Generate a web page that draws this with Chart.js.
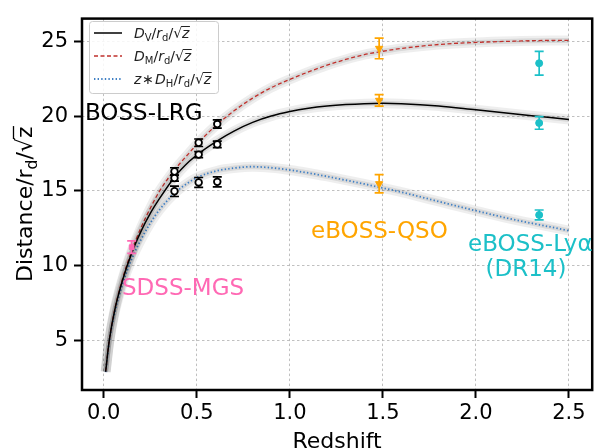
<!DOCTYPE html>
<html><head><meta charset="utf-8">
<script src="https://cdn.jsdelivr.net/npm/chart.js@4"></script>
<style>html,body{margin:0;padding:0;background:#fff}canvas{display:block}</style>
</head><body>
<canvas id="c" width="598" height="448"></canvas>
<script>
// ---- data ----
const zCurve   = [0.01,0.03,0.06,0.1,0.15,0.2,0.25,0.3,0.38,0.46,0.51,0.61,0.7,0.8,0.9,1.0,1.1,1.2,1.3,1.4,1.5,1.6,1.8,2.0,2.2,2.4,2.5];
const dmCurve  = [2.95,5.08,7.15,9.1,11.0,12.55,13.85,15.0,16.4,17.55,18.25,19.45,20.35,21.2,21.9,22.45,22.95,23.4,23.78,24.1,24.33,24.52,24.78,24.92,25.0,25.05,25.05];
const dvCurve  = [2.93,5.05,7.1,9.0,10.85,12.3,13.5,14.5,15.92,16.98,17.5,18.35,19.0,19.58,20.0,20.3,20.52,20.67,20.77,20.83,20.85,20.83,20.68,20.42,20.16,19.9,19.77];
const zdhCurve = [2.9,4.98,6.95,8.75,10.45,11.75,12.85,13.75,14.85,15.6,15.95,16.35,16.53,16.62,16.55,16.4,16.2,15.97,15.72,15.47,15.2,14.92,14.3,13.68,13.1,12.6,12.35];

const xTicks = [0,0.5,1.0,1.5,2.0,2.5];
const yTicks = [5,10,15,20,25];

const lrgZ = [0.38,0.51,0.61];
const lrgDM = [16.3,18.22,19.47];   const lrgDMerr = [0.25,0.25,0.28];
const lrgDV = [15.86,17.43,18.11];  const lrgDVerr = [0.2,0.2,0.22];
const lrgZDH = [14.98,15.57,15.61]; const lrgZDHerr = [0.35,0.33,0.33];

const mgsZ = [0.15]; const mgsDV = [11.25]; const mgsDVerr = [0.42];

const qsoZ = [1.48];
const qsoDM = [24.52];  const qsoDMerr = [0.69];
const qsoDV = [21.05];  const qsoDVerr = [0.38];
const qsoZDH = [15.48]; const qsoZDHerr = [0.61];

const lyaZ = [2.34];
const lyaDM = [23.53];  const lyaDMerr = [0.79];
const lyaDV = [19.54];  const lyaDVerr = [0.42];
const lyaZDH = [13.4];  const lyaZDHerr = [0.33];

// ---- helpers ----
const pts = (xs, ys) => xs.map((x, i) => ({x: x, y: ys[i]}));
const COL_ORANGE = '#ffa500', COL_CYAN = '#1cc0c8', COL_PINK = '#ff69b4';

function curveSets(ys, style) {
  const d = pts(zCurve, ys);
  return [
    {data: d, showLine: true, pointRadius: 0, borderColor: style.color, borderWidth: style.width, borderDash: style.dash, cubicInterpolationMode: 'monotone', fill: false},
    {data: d, showLine: true, pointRadius: 0, borderColor: 'rgba(0,0,0,0.09)', borderWidth: 5, cubicInterpolationMode: 'monotone', fill: false, borderCapStyle: 'butt'},
    {data: d, showLine: true, pointRadius: 0, borderColor: 'rgba(0,0,0,0.065)', borderWidth: 10, cubicInterpolationMode: 'monotone', fill: false, borderCapStyle: 'butt'}
  ];
}

const pointSets = [
  {data: pts(lrgZ.concat(lrgZ, lrgZ), lrgDM.concat(lrgDV, lrgZDH)), err: lrgDMerr.concat(lrgDVerr, lrgZDHerr), errColor: '#000',
   pointStyle: 'circle', pointRadius: 3.3, backgroundColor: '#fff', borderColor: '#000', borderWidth: 1.8},
  {data: pts(mgsZ, mgsDV), err: mgsDVerr, errColor: COL_PINK,
   pointStyle: 'rect', pointRadius: 3.3, backgroundColor: COL_PINK, borderColor: COL_PINK, borderWidth: 1},
  {data: pts(qsoZ.concat(qsoZ, qsoZ), qsoDM.concat(qsoDV, qsoZDH)), err: qsoDMerr.concat(qsoDVerr, qsoZDHerr), errColor: COL_ORANGE,
   pointStyle: 'triangle', rotation: 180, pointRadius: 4.2, backgroundColor: COL_ORANGE, borderColor: COL_ORANGE, borderWidth: 1},
  {data: pts(lyaZ.concat(lyaZ, lyaZ), lyaDM.concat(lyaDV, lyaZDH)), err: lyaDMerr.concat(lyaDVerr, lyaZDHerr), errColor: COL_CYAN,
   pointStyle: 'circle', pointRadius: 3.5, backgroundColor: COL_CYAN, borderColor: COL_CYAN, borderWidth: 1}
];

const datasets = pointSets
  .concat(curveSets(dvCurve,  {color: '#000', width: 1.5, dash: []}))
  .concat(curveSets(dmCurve,  {color: '#c0302c', width: 1.3, dash: [4, 2.5]}))
  .concat(curveSets(zdhCurve, {color: '#3f7fc4', width: 1.8, dash: [1.4, 2.2]}));

// ---- rich text helper ----
function drawRich(ctx, x, y, segs) {
  let cx = x;
  for (const s of segs) {
    ctx.font = s.font;
    const w = ctx.measureText(s.t).width;
    ctx.fillText(s.t, cx, y + (s.dy || 0));
    if (s.over) {
      ctx.save(); ctx.lineWidth = s.overW || 1; ctx.strokeStyle = ctx.fillStyle;
      ctx.beginPath(); ctx.moveTo(cx - 1, y - s.over); ctx.lineTo(cx + w + 0.5, y - s.over); ctx.stroke(); ctx.restore();
    }
    cx += w + (s.gap || 0);
  }
  return cx - x;
}
function richWidth(ctx, segs) {
  let w = 0; for (const s of segs) { ctx.font = s.font; w += ctx.measureText(s.t).width + (s.gap || 0); } return w;
}

const errPlugin = {
  id: 'errbars',
  beforeDatasetDraw(chart, args) {
    if (args.index !== pointSets.length - 1) return;
    const ctx = chart.ctx, xs = chart.scales.x, ys = chart.scales.y;
    ctx.save();
    pointSets.forEach(ds => {
      ctx.strokeStyle = ds.errColor; ctx.lineWidth = 1.7;
      ds.data.forEach((p, i) => {
        const px = xs.getPixelForValue(p.x);
        const y1 = ys.getPixelForValue(p.y - ds.err[i]);
        const y2 = ys.getPixelForValue(p.y + ds.err[i]);
        ctx.beginPath();
        ctx.moveTo(px, y1); ctx.lineTo(px, y2);
        ctx.moveTo(px - 4.5, y1); ctx.lineTo(px + 4.5, y1);
        ctx.moveTo(px - 4.5, y2); ctx.lineTo(px + 4.5, y2);
        ctx.stroke();
      });
    });
    ctx.restore();
  }
};

const decorPlugin = {
  id: 'decor',
  afterDraw(chart) {
    const ctx = chart.ctx, a = chart.chartArea;
    ctx.save();
    // frame
    ctx.strokeStyle = '#000'; ctx.lineWidth = 2.5;
    ctx.strokeRect(a.left, a.top, a.right - a.left, a.bottom - a.top);

    // annotations
    ctx.textBaseline = 'alphabetic'; ctx.textAlign = 'left';
    ctx.font = '23px "DejaVu Sans"';
    ctx.fillStyle = '#000'; ctx.fillText('BOSS-LRG', 85, 120);
    ctx.fillStyle = COL_PINK; ctx.fillText('SDSS-MGS', 122, 295);
    ctx.fillStyle = COL_ORANGE; ctx.fillText('eBOSS-QSO', 311, 238);
    ctx.fillStyle = COL_CYAN; ctx.fillText('eBOSS-Ly\u03b1', 468, 251);
    ctx.textAlign = 'center'; ctx.fillText('(DR14)', 526, 276);
    ctx.textAlign = 'left';

    // legend
    ctx.fillStyle = 'rgba(255,255,255,0.85)'; ctx.strokeStyle = '#cccccc'; ctx.lineWidth = 1;
    ctx.beginPath(); ctx.roundRect(89.5, 21.5, 129, 72, 3); ctx.fill(); ctx.stroke();
    const rows = [33, 56, 79];
    const lines = [{c: '#000', w: 1.5, d: []}, {c: '#c0302c', w: 1.3, d: [4, 2.5]}, {c: '#3f7fc4', w: 1.8, d: [1.4, 2.2]}];
    lines.forEach((l, i) => {
      ctx.strokeStyle = l.c; ctx.lineWidth = l.w; ctx.setLineDash(l.d);
      ctx.beginPath(); ctx.moveTo(94, rows[i]); ctx.lineTo(122, rows[i]); ctx.stroke();
    });
    ctx.setLineDash([]);
    ctx.fillStyle = '#222';
    const it = 'italic 14px "DejaVu Sans"', up = '14px "DejaVu Sans"', sb = '10px "DejaVu Sans"';
    const tail = [
      {t: '/', font: up}, {t: 'r', font: it}, {t: 'd', font: sb, dy: 3},
      {t: '/', font: up}, {t: '\u221a', font: up}, {t: 'z', font: it, over: 11.5}
    ];
    drawRich(ctx, 134, rows[0] + 5, [{t: 'D', font: it}, {t: 'V', font: sb, dy: 3}].concat(tail));
    drawRich(ctx, 134, rows[1] + 5, [{t: 'D', font: it}, {t: 'M', font: sb, dy: 3}].concat(tail));
    drawRich(ctx, 134, rows[2] + 5, [{t: 'z', font: it, gap: 1}, {t: '\u2217', font: up, gap: 1}, {t: 'D', font: it}, {t: 'H', font: sb, dy: 3}].concat(tail));

    // axis titles
    ctx.fillStyle = '#000';
    ctx.font = '22px "DejaVu Sans"'; ctx.textAlign = 'center';
    ctx.fillText('Redshift', (a.left + a.right) / 2, 448);
    ctx.textAlign = 'left';
    const ysegs = [
      {t: 'Distance/r', font: '22px "DejaVu Sans"'}, {t: 'd', font: '15.5px "DejaVu Sans"', dy: 5},
      {t: '/', font: '22px "DejaVu Sans"'}, {t: '\u221a', font: '22px "DejaVu Sans"'},
      {t: 'z', font: '22px "DejaVu Sans"', over: 18, overW: 1.3}
    ];
    const w = richWidth(ctx, ysegs);
    ctx.translate(31.5, (a.top + a.bottom) / 2);
    ctx.rotate(-Math.PI / 2);
    drawRich(ctx, -w / 2, 0, ysegs);
    ctx.restore();
  }
};

const tickFont = {family: 'DejaVu Sans', size: 21};
new Chart(document.getElementById('c'), {
  type: 'scatter',
  data: {datasets: datasets},
  options: {
    responsive: false, animation: false, devicePixelRatio: 1,
    layout: {padding: {top: 13, right: 1, left: 0, bottom: 0}},
    plugins: {legend: {display: false}, tooltip: {enabled: false}},
    scales: {
      x: {
        type: 'linear', min: -0.117, max: 2.625,
        afterBuildTicks: s => { s.ticks = xTicks.map(v => ({value: v})); },
        afterFit: s => { s.height = 58; },
        ticks: {callback: v => Number(v).toFixed(1), font: tickFont, color: '#000', padding: 2.5, maxRotation: 0, autoSkip: false},
        grid: {color: '#b0b0b0', lineWidth: 0.8, tickColor: '#000', tickLength: 8, tickWidth: 2, tickBorderDash: []},
        border: {display: false, dash: [2.5, 2.5]}
      },
      y: {
        type: 'linear', min: 1.71, max: 26.51,
        afterBuildTicks: s => { s.ticks = yTicks.map(v => ({value: v})); },
        afterFit: s => { s.width = 82; },
        ticks: {callback: v => String(v), font: tickFont, color: '#000', padding: 6, autoSkip: false},
        grid: {color: '#b0b0b0', lineWidth: 0.8, tickColor: '#000', tickLength: 8, tickWidth: 2, tickBorderDash: []},
        border: {display: false, dash: [2.5, 2.5]}
      }
    }
  },
  plugins: [errPlugin, decorPlugin]
});
</script>
</body></html>
